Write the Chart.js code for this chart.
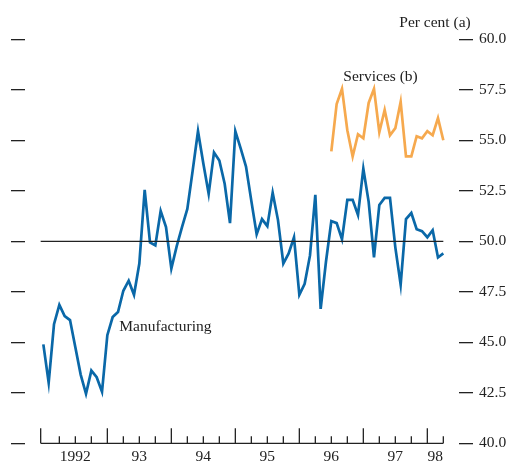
<!DOCTYPE html>
<html>
<head>
<meta charset="utf-8">
<script src="https://cdn.jsdelivr.net/npm/chart.js@4/dist/chart.umd.min.js"></script>
<style>
  html, body { margin: 0; padding: 0; background: #ffffff; }
  #wrap { width: 510px; height: 464px; position: relative; }
</style>
</head>
<body>
<div id="wrap"><canvas id="c" width="510" height="464"></canvas></div>
<script>
// Months counted from January 1992 (0 = Jan 1992)
const manufacturingStart = 0;
const manufacturing = [
  44.9, 43.0, 45.9, 46.85, 46.3, 46.1, 44.75, 43.4, 42.45, 43.6, 43.27, 42.55,
  45.35, 46.25, 46.5, 47.55, 48.05, 47.35, 48.9, 52.55, 49.95, 49.8, 51.5, 50.7,
  48.65, 49.75, 50.7, 51.6, 53.5, 55.45, 53.85, 52.35, 54.4, 54.0, 52.85, 50.9,
  55.45, 54.6, 53.7, 52.0, 50.35, 51.1, 50.75, 52.4, 51.05, 48.9, 49.4, 50.2,
  47.35, 47.9, 49.3, 52.3, 46.65, 49.0, 51.0, 50.9, 50.1, 52.05, 52.05, 51.3,
  53.6, 51.95, 49.2, 51.8, 52.15, 52.15, 49.7, 47.85, 51.1, 51.4, 50.6, 50.5,
  50.2, 50.55, 49.2, 49.4
];
const servicesStart = 54;   // July 1996
const services = [
  54.45, 56.8, 57.55, 55.5, 54.2, 55.3, 55.1, 56.85, 57.55, 55.4, 56.5, 55.25,
  55.6, 56.9, 54.2, 54.2, 55.2, 55.1, 55.45, 55.25, 56.1, 55.0
];
const yearLabels = ['1992', '93', '94', '95', '96', '97', '98'];
const yearLabelMonths = [6, 18, 30, 42, 54, 66, 73.5];
const majorTickMonths = [-0.5, 12, 24, 36, 48, 60, 72];
const minorTickMonths = [3, 6, 9, 15, 18, 21, 27, 30, 33, 39, 42, 45, 51, 54, 57, 63, 66, 69, 75];
const yTicks = [40, 42.5, 45, 47.5, 50, 52.5, 55, 57.5, 60];

const FONT = 'Liberation Serif, "Times New Roman", serif';
const BLUE = '#0a68a8';
const ORANGE = '#f6a94e';
const INK = '#222222';

const toPoints = (arr, start) => arr.map((v, i) => ({ x: start + i, y: v }));

// tick marks rising from the time axis, plus the series captions
const decorations = {
  id: 'decorations',
  afterDatasetsDraw(chart) {
    const { ctx, scales } = chart;
    const xs = scales.x, ys = scales.y;
    const base = ys.getPixelForValue(40);
    ctx.save();
    ctx.strokeStyle = INK;
    ctx.lineWidth = 1.3;
    ctx.beginPath();
    majorTickMonths.forEach(m => {
      const px = xs.getPixelForValue(m);
      ctx.moveTo(px, base); ctx.lineTo(px, base - 15);
    });
    minorTickMonths.forEach(m => {
      const px = xs.getPixelForValue(m);
      ctx.moveTo(px, base); ctx.lineTo(px, base - 7);
    });
    ctx.stroke();

    ctx.fillStyle = INK;
    ctx.font = '15.5px ' + FONT;
    ctx.textBaseline = 'middle';
    ctx.textAlign = 'left';
    ctx.fillText('Manufacturing', xs.getPixelForValue(14.25), ys.getPixelForValue(45.75));
    ctx.fillText('Services (b)', xs.getPixelForValue(56.25), ys.getPixelForValue(58.15));
    ctx.textAlign = 'right';
    ctx.fillText('Per cent (a)', 470.7, 23.3);
    ctx.restore();
  }
};

new Chart(document.getElementById('c'), {
  type: 'line',
  data: {
    datasets: [
      {
        label: 'Axis',
        data: [{ x: -0.5, y: 40 }, { x: 75, y: 40 }],
        borderColor: INK, borderWidth: 1.3, pointRadius: 0, clip: false
      },
      {
        label: 'Fifty',
        data: [{ x: -0.5, y: 50 }, { x: 75, y: 50 }],
        borderColor: INK, borderWidth: 1.3, pointRadius: 0
      },
      {
        label: 'Manufacturing',
        data: toPoints(manufacturing, manufacturingStart),
        borderColor: BLUE, borderWidth: 2.7, pointRadius: 0, tension: 0,
        borderJoinStyle: 'miter'
      },
      {
        label: 'Services (b)',
        data: toPoints(services, servicesStart),
        borderColor: ORANGE, borderWidth: 2.7, pointRadius: 0, tension: 0,
        borderJoinStyle: 'miter'
      }
    ]
  },
  options: {
    responsive: false,
    animation: false,
    events: [],
    layout: { padding: { top: 39.3, bottom: 0, left: 11, right: 0 } },
    plugins: { legend: { display: false }, tooltip: { enabled: false } },
    scales: {
      x: {
        type: 'linear',
        min: -3.44,
        max: 77.94,
        grid: { display: false, drawTicks: false },
        border: { display: false },
        afterBuildTicks: (axis) => { axis.ticks = yearLabelMonths.map(v => ({ value: v })); },
        afterFit: (axis) => { axis.height = 20.7; },
        ticks: {
          autoSkip: false,
          maxRotation: 0,
          padding: 4,
          color: INK,
          font: { family: FONT, size: 15.5 },
          callback: (v) => {
            const i = yearLabelMonths.indexOf(v);
            return i >= 0 ? yearLabels[i] : '';
          }
        }
      },
      y: {
        position: 'right',
        min: 40,
        max: 60,
        afterBuildTicks: (axis) => { axis.ticks = yTicks.map(v => ({ value: v })); },
        afterFit: (axis) => { axis.width = 51; },
        grid: { drawOnChartArea: false, tickLength: 14, color: INK, lineWidth: 1.3 },
        border: { display: false },
        ticks: {
          padding: 6,
          color: INK,
          font: { family: FONT, size: 15.5 },
          callback: (v) => v.toFixed(1)
        }
      },
      yLeft: {
        position: 'left',
        min: 40,
        max: 60,
        afterBuildTicks: (axis) => { axis.ticks = yTicks.map(v => ({ value: v })); },
        afterFit: (axis) => { axis.width = 14; },
        grid: { drawOnChartArea: false, tickLength: 14, color: INK, lineWidth: 1.3 },
        border: { display: false },
        ticks: { display: false }
      }
    }
  },
  plugins: [decorations]
});
</script>
</body>
</html>
